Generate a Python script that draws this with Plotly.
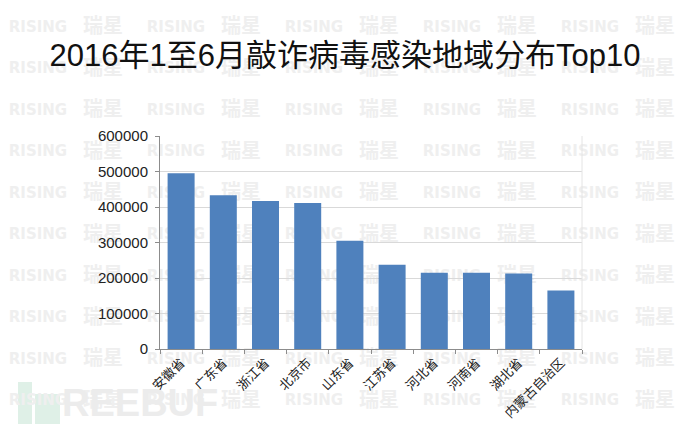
import plotly.graph_objects as go

# data
regions = ["安徽省", "广东省", "浙江省", "北京市", "山东省",
           "江苏省", "河北省", "河南省", "湖北省", "内蒙古自治区"]
infections = [495000, 433000, 417000, 411000, 305000,
              237000, 215000, 215000, 213000, 165000]
y_ticks = [0, 100000, 200000, 300000, 400000, 500000, 600000]

title_text = "2016年1至6月敲诈病毒感染地域分布Top10"
W, H = 690, 431

fig = go.Figure()

# background watermark ("RISING 瑞星" tiles), drawn in a full-page pixel subplot under the bars
wm_x, wm_y = [], []
for row in range(10):
    for col in range(5):
        wm_x.append(10 + col * 138)
        wm_y.append(28 + row * 41.5)
fig.add_trace(
    go.Scatter(
        x=[x + 28 for x in wm_x], y=wm_y, text=["RISING"] * len(wm_x), mode="text",
        textfont=dict(family="DejaVu Sans", size=15, color="#efefef", weight="bold"),
        hoverinfo="skip", showlegend=False, cliponaxis=False,
        xaxis="x", yaxis="y",
    )
)
fig.add_trace(
    go.Scatter(
        x=[x + 93 for x in wm_x], y=wm_y, text=["瑞星"] * len(wm_x), mode="text",
        textfont=dict(family="Noto Sans CJK SC", size=20, color="#efefef", weight="bold"),
        hoverinfo="skip", showlegend=False, cliponaxis=False,
        xaxis="x", yaxis="y",
    )
)

fig.add_trace(
    go.Bar(
        x=regions, y=infections,
        marker=dict(color="#4f81bd", line=dict(width=0)),
        xaxis="x2", yaxis="y2", showlegend=False,
    )
)

fig.update_layout(
    template="none",
    width=W, height=H,
    margin=dict(l=0, r=0, t=0, b=0, pad=0, autoexpand=False),
    paper_bgcolor="white",
    plot_bgcolor="rgba(0,0,0,0)",
    bargap=0.36,
    showlegend=False,
    title=dict(
        text=title_text, x=0.5, xanchor="center", y=1 - 55 / H, yanchor="middle",
        font=dict(family="Liberation Sans, Noto Sans CJK SC", size=31, color="#111111"),
    ),
    xaxis=dict(domain=[0, 1], range=[0, W], visible=False, fixedrange=True,
               automargin=False),
    yaxis=dict(domain=[0, 1], range=[H, 0], visible=False, fixedrange=True,
               automargin=False),
    xaxis2=dict(
        domain=[160 / W, 582 / W], anchor="y2", automargin=False,
        showline=True, linecolor="#8c8c8c", linewidth=1,
        ticks="outside", tickson="boundaries", ticklen=4, tickcolor="#8c8c8c",
        tickangle=-45,
        tickfont=dict(family="Noto Sans CJK SC", size=13, color="#222222"),
        showgrid=False, zeroline=False,
    ),
    yaxis2=dict(
        domain=[1 - 349 / H, 1 - 136 / H], anchor="x2", automargin=False,
        range=[0, 600000], tickvals=y_ticks, ticktext=[str(v) for v in y_ticks],
        showline=True, linecolor="#8c8c8c", linewidth=1,
        ticks="outside", ticklen=4, tickcolor="#8c8c8c",
        showgrid=True, gridcolor="#d9d9d9", gridwidth=1,
        tickfont=dict(family="Liberation Sans", size=15, color="#222222"),
        ticklabelstandoff=4,
        zeroline=False,
    ),
)

# faint right border of the plot area
fig.add_shape(type="line", xref="x2 domain", yref="y2 domain",
              x0=1, x1=1, y0=0, y1=1, line=dict(color="#e4e4e4", width=1))

# FREEBUF logo, bottom left (faint)
fig.add_shape(type="rect", xref="paper", yref="paper", layer="below",
              x0=18 / W, x1=32 / W, y0=1 - 424 / H, y1=1 - 382 / H,
              line=dict(width=0), fillcolor="#dff0e7")
fig.add_shape(type="rect", xref="paper", yref="paper", layer="below",
              x0=35 / W, x1=60 / W, y0=1 - 424 / H, y1=1 - 394 / H,
              line=dict(width=0), fillcolor="#dff0e7")
fig.add_annotation(
    text="REEBUF", xref="paper", yref="paper", x=60 / W, y=1 - 403 / H,
    xanchor="left", yanchor="middle", showarrow=False,
    font=dict(family="Liberation Sans Narrow, Liberation Sans", size=38,
              color="#ececec", weight="bold"),
)

# the page body has a default 8px margin; drop it so the figure sits at the window corner
fig.write_html("out.html", config={"displayModeBar": False},
               post_script="document.body.style.margin='0';")
